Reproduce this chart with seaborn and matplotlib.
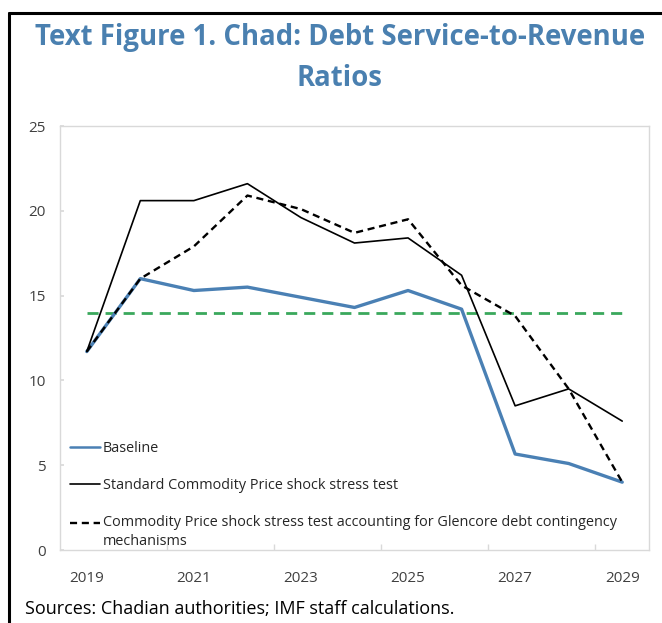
import matplotlib
matplotlib.use("Agg")
import matplotlib.pyplot as plt
import seaborn as sns
import pandas as pd
from matplotlib.lines import Line2D

# Debt service-to-revenue ratios (percent), 2019-2029
years = [2019, 2020, 2021, 2022, 2023, 2024, 2025, 2026, 2027, 2028, 2029]
baseline = [11.7, 16.0, 15.3, 15.5, 14.9, 14.3, 15.3, 14.2, 5.66, 5.1, 4.0]
standard_shock = [11.7, 20.6, 20.6, 21.6, 19.6, 18.1, 18.4, 16.2, 8.5, 9.5, 7.6]
glencore_shock = [11.7, 16.0, 17.9, 20.9, 20.1, 18.7, 19.5, 15.6, 13.8, 9.5, 4.0]
threshold = 14

series_names = [
    "Baseline",
    "Standard Commodity Price shock stress test",
    "Commodity Price shock stress test accounting for Glencore debt contingency\nmechanisms",
]
yticks = [0, 5, 10, 15, 20, 25]
xticks = [2019, 2021, 2023, 2025, 2027, 2029]

title = "Text Figure 1. Chad: Debt Service-to-Revenue\nRatios"
source = "Sources: Chadian authorities; IMF staff calculations."

sns.set_theme(style="white")
plt.rcParams["font.family"] = ["Open Sans", "DejaVu Sans"]

df = pd.DataFrame({
    "year": years * 3,
    "value": baseline + standard_shock + glencore_shock,
    "series": [series_names[0]] * len(years)
    + [series_names[1]] * len(years)
    + [series_names[2]] * len(years),
})

fig = plt.figure(figsize=(6.62, 6.23), dpi=100)
ax = fig.add_axes([60 / 662, 1 - 550 / 623, 589 / 662, 424 / 623])

blue = "#4a80b4"
green = "#3aa85c"
styles = {
    series_names[0]: dict(color=blue, lw=2.4, ls="-"),
    series_names[1]: dict(color="black", lw=1.2, ls="-"),
    series_names[2]: dict(color="black", lw=1.7, ls=(0, (3, 2))),
}

# threshold line
thr = pd.DataFrame({"year": [years[0], years[-1]], "value": [threshold, threshold]})
sns.lineplot(data=thr, x="year", y="value", ax=ax, color=green, lw=2.0,
             linestyle=(0, (4, 2.5)), legend=False)

for name in series_names:
    sub = df[df["series"] == name]
    st = styles[name]
    sns.lineplot(data=sub, x="year", y="value", ax=ax, color=st["color"],
                 lw=st["lw"], linestyle=st["ls"], legend=False)

ax.set_xlim(2018.5, 2029.5)
ax.set_ylim(0, 25)
ax.set_yticks(yticks)
ax.set_yticklabels([str(v) for v in yticks])
ax.set_xticks(xticks)
ax.set_xticklabels([str(v) for v in xticks])
ax.set_xticks([2020.5, 2022.5, 2024.5, 2026.5, 2028.5], minor=True)
ax.set_xlabel("")
ax.set_ylabel("")

for sp in ax.spines.values():
    sp.set_visible(True)
    sp.set_color("#d9d9d9")
    sp.set_linewidth(1.0)

ax.tick_params(axis="y", which="major", direction="in", length=3, color="#d9d9d9",
               labelsize=11, labelcolor="#404040", pad=10, left=True)
ax.tick_params(axis="x", which="major", length=0, labelsize=11, labelcolor="#404040", pad=15)
ax.tick_params(axis="x", which="minor", direction="in", length=4, color="#d9d9d9", bottom=True)

handles = [Line2D([], [], color=styles[n]["color"], lw=styles[n]["lw"] if n != series_names[0] else 1.8,
                  ls=styles[n]["ls"]) for n in series_names]
leg = ax.legend(handles, series_names, loc="lower left", bbox_to_anchor=(0.0, -0.022),
                frameon=False, fontsize=10.4, handlelength=2.1, handletextpad=0.15,
                labelspacing=1.55, borderaxespad=0.3)
for t in leg.get_texts():
    t.set_color("#262626")
    t.set_linespacing(1.35)
# keep the two-line entry's key level with its first line of text
last_key = leg.legend_handles[2]
last_key.set_ydata([y + 7 for y in last_key.get_ydata()])

fig.text(0.513, 1 - 58 / 623, title, ha="center", va="center", fontsize=19.8,
         fontweight="bold", color="#4a80b0", linespacing=1.5)
fig.text(25 / 662, 1 - 609 / 623, source, ha="left", va="center", fontsize=13,
         color="black")

# outer frame: top and left edges
fig.add_artist(Line2D([9 / 662, 1.0], [1 - 12.5 / 623, 1 - 12.5 / 623], color="black",
                      lw=2.2, transform=fig.transFigure))
fig.add_artist(Line2D([9 / 662, 9 / 662], [0.0, 1 - 12.5 / 623], color="black",
                      lw=2.2, transform=fig.transFigure))

fig.savefig("out.png", dpi=100)
